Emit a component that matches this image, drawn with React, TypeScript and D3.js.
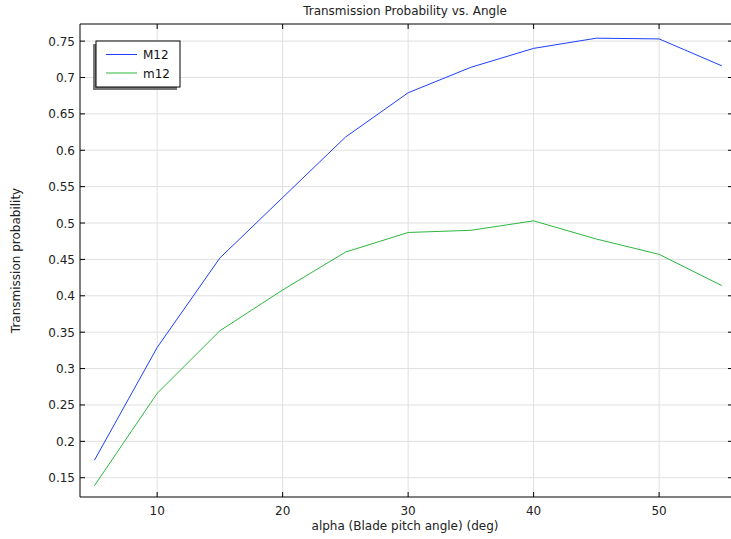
import React from "react";
import * as d3 from "d3";

const alpha = [5, 10, 15, 20, 25, 30, 35, 40, 45, 50, 55];
const M12 = [0.174, 0.329, 0.452, 0.535, 0.618, 0.679, 0.714, 0.740, 0.754, 0.753, 0.716];
const m12 = [0.139, 0.266, 0.352, 0.408, 0.460, 0.487, 0.490, 0.503, 0.478, 0.457, 0.414];
const xTicks = [10, 20, 30, 40, 50];
const yTicks = [0.15, 0.2, 0.25, 0.3, 0.35, 0.4, 0.45, 0.5, 0.55, 0.6, 0.65, 0.7, 0.75];
const seriesNames = ["M12", "m12"];
const seriesColors = ["#1f3fff", "#2cb83c"];

const W = 731, H = 539;
const L = 80, R = 730, T = 24, B = 497;

export default function App() {
  const x = d3.scaleLinear().domain([3.85, 55.65]).range([L, R]);
  const y = d3.scaleLinear().domain([0.1235, 0.7735]).range([B, T]);
  const line = d3.line<number>().x((_, i) => x(alpha[i])).y((d) => y(d));
  const series = [M12, m12];
  const font = "'DejaVu Sans', sans-serif";
  const RF = W;
  return (
    <svg width={W} height={H} style={{ position: "absolute", left: 0, top: 0 }} fontFamily={font}>
      <rect x={0} y={0} width={W} height={H} fill="#fff" />
      {xTicks.map((t) => (
        <line key={"gx" + t} x1={x(t)} x2={x(t)} y1={T} y2={B} stroke="#e0e0e0" strokeWidth={1} />
      ))}
      {yTicks.map((t) => (
        <line key={"gy" + t} x1={L} x2={RF} y1={y(t)} y2={y(t)} stroke="#e0e0e0" strokeWidth={1} />
      ))}
      {series.map((s, k) => (
        <path key={k} d={line(s) || ""} fill="none" stroke={seriesColors[k]} strokeWidth={1} />
      ))}
      <line x1={L} x2={RF} y1={T} y2={T} stroke="#000" />
      <line x1={L} x2={RF} y1={B} y2={B} stroke="#000" />
      <line x1={L} x2={L} y1={T} y2={B} stroke="#000" />
      {xTicks.map((t) => (
        <g key={"tx" + t}>
          <line x1={x(t)} x2={x(t)} y1={B} y2={B - 5} stroke="#000" />
          <line x1={x(t)} x2={x(t)} y1={T} y2={T + 5} stroke="#000" />
          <text x={x(t)} y={B + 18} textAnchor="middle" fontSize={12} fill="#222">{t}</text>
        </g>
      ))}
      {yTicks.map((t) => (
        <g key={"ty" + t}>
          <line x1={L} x2={L + 5} y1={y(t)} y2={y(t)} stroke="#000" />
          <line x1={RF} x2={RF - 3} y1={y(t)} y2={y(t)} stroke="#000" />
          <text x={L - 5} y={y(t) + 4.5} textAnchor="end" fontSize={12} fill="#222">{String(t)}</text>
        </g>
      ))}
      <text x={(L + R) / 2} y={15} textAnchor="middle" fontSize={12} fill="#222">Transmission Probability vs. Angle</text>
      <text x={(L + R) / 2} y={530} textAnchor="middle" fontSize={12} fill="#222">alpha (Blade pitch angle) (deg)</text>
      <text transform={`translate(20, ${(T + B) / 2}) rotate(-90)`} textAnchor="middle" fontSize={12} fill="#222">Transmission probability</text>
      <g>
        <rect x={93} y={44} width={84} height={46} fill="#777" />
        <rect x={96} y={41} width={84} height={46} fill="#fff" stroke="#000" strokeWidth={1} />
        {seriesNames.map((n, k) => (
          <g key={n}>
            <line x1={106} x2={137} y1={54.5 + k * 18.5} y2={54.5 + k * 18.5} stroke={seriesColors[k]} />
            <text x={143} y={54.5 + k * 18.5 + 4.5} fontSize={12} fill="#111">{n}</text>
          </g>
        ))}
      </g>
    </svg>
  );
}
